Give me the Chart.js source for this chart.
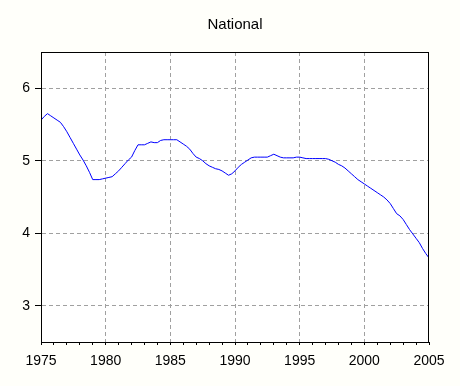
<!DOCTYPE html>
<html>
<head>
<meta charset="utf-8">
<script src="https://cdn.jsdelivr.net/npm/chart.js@4/dist/chart.umd.min.js"></script>
<style>
  html, body { margin: 0; padding: 0; background: #fffffa; }
  canvas { display: block; }
</style>
</head>
<body>
<canvas id="nationalChart" width="460" height="386"></canvas>
<script>
// quarterly series, 1975Q1 .. 2005Q1
const startYear = 1975;
const values = [
    5.56, 5.61, 5.65, 5.62, 5.59, 5.56, 5.53, 5.47,
    5.40, 5.32, 5.24, 5.16, 5.08, 5.01, 4.93, 4.84,
    4.74, 4.74, 4.74, 4.75, 4.76, 4.77, 4.78, 4.82,
    4.86, 4.91, 4.96, 5.01, 5.05, 5.14, 5.22, 5.22,
    5.22, 5.24, 5.26, 5.25, 5.25, 5.28, 5.29, 5.29,
    5.29, 5.29, 5.29, 5.26, 5.23, 5.20, 5.16, 5.10,
    5.05, 5.03, 5.00, 4.96, 4.93, 4.91, 4.89, 4.88,
    4.86, 4.83, 4.80, 4.82, 4.86, 4.91, 4.95, 4.98,
    5.01, 5.04, 5.05, 5.05, 5.05, 5.05, 5.05, 5.07,
    5.09, 5.07, 5.05, 5.04, 5.04, 5.04, 5.04, 5.05,
    5.05, 5.04, 5.03, 5.03, 5.03, 5.03, 5.03, 5.03,
    5.03, 5.02, 5.00, 4.98, 4.95, 4.93, 4.90, 4.86,
    4.82, 4.78, 4.74, 4.71, 4.68, 4.65, 4.62, 4.59,
    4.56, 4.53, 4.50, 4.46, 4.41, 4.34, 4.27, 4.24,
    4.19, 4.12, 4.05, 3.99, 3.93, 3.87, 3.79, 3.72,
    3.66
];
const yearTicks = [];
for (let y = 1975; y <= 2005; y++) yearTicks.push(y);
const valueTicks = [3, 4, 5, 6];

const points = values.map((v, i) => ({ x: startYear + i / 4, y: v }));

const frame = {
    id: "frame",
    beforeDraw(chart) {
        const a = chart.chartArea;
        const ctx = chart.ctx;
        ctx.save();
        ctx.fillStyle = "#ffffff";
        ctx.fillRect(a.left, a.top, a.right - a.left, a.bottom - a.top);
        ctx.restore();
    },
    afterDraw(chart) {
        const a = chart.chartArea;
        const ctx = chart.ctx;
        ctx.save();
        ctx.strokeStyle = "#000000";
        ctx.lineWidth = 1;
        ctx.strokeRect(Math.round(a.left) + 0.5, Math.round(a.top) + 0.5,
            Math.round(a.right - a.left) - 1, Math.round(a.bottom - a.top));
        ctx.restore();
    }
};

const font = "Arial, 'Liberation Sans', Helvetica, sans-serif";

new Chart(document.getElementById("nationalChart").getContext("2d"), {
    type: "line",
    data: {
        datasets: [{
            data: points,
            borderColor: "#0000ff",
            borderWidth: 1,
            pointRadius: 0,
            tension: 0,
            fill: false
        }]
    },
    options: {
        responsive: false,
        animation: false,
        layout: { padding: { left: 10, right: 0, top: 0, bottom: 0 } },
        plugins: {
            legend: { display: false },
            tooltip: { enabled: false },
            title: {
                display: true,
                text: "National",
                color: "#000000",
                font: { family: font, size: 15, weight: "normal", lineHeight: 1.2 },
                padding: { top: 16, bottom: 18 }
            }
        },
        scales: {
            x: {
                type: "linear",
                min: 1975,
                max: 2005,
                afterBuildTicks: axis => { axis.ticks = yearTicks.map(v => ({ value: v })); },
                afterFit: axis => { axis.height = 44; },
                grid: {
                    color: ctx => (ctx.tick && ctx.tick.value % 5 === 0 && ctx.tick.value !== 1975 && ctx.tick.value !== 2005) ? "#a0a0a0" : "rgba(0,0,0,0)",
                    lineWidth: 1,
                    tickLength: 3,
                    tickColor: "#000000"
                },
                border: { display: true, color: "#000000", width: 1, dash: [4, 3] },
                ticks: {
                    color: "#000000",
                    font: { family: font, size: 14 },
                    padding: 8,
                    maxRotation: 0,
                    autoSkip: false,
                    callback: v => (v % 5 === 0 ? String(v) : "")
                }
            },
            y: {
                min: 2.5,
                max: 6.5,
                afterBuildTicks: axis => { axis.ticks = valueTicks.map(v => ({ value: v })); },
                afterFit: axis => { axis.width = 31; },
                grid: {
                    color: "#a0a0a0",
                    lineWidth: 1,
                    tickLength: 6,
                    tickColor: "#000000"
                },
                border: { display: true, color: "#000000", width: 1, dash: [4, 3] },
                ticks: {
                    color: "#000000",
                    font: { family: font, size: 14 },
                    padding: 5
                }
            },
            // empty right-hand axis, only reserves the margin so the title centres over the plot
            yRight: {
                position: "right",
                min: 2.5,
                max: 6.5,
                afterFit: axis => { axis.width = 31; },
                grid: { display: false },
                border: { display: false },
                ticks: { display: false }
            }
        }
    },
    plugins: [frame]
});
</script>
</body>
</html>
